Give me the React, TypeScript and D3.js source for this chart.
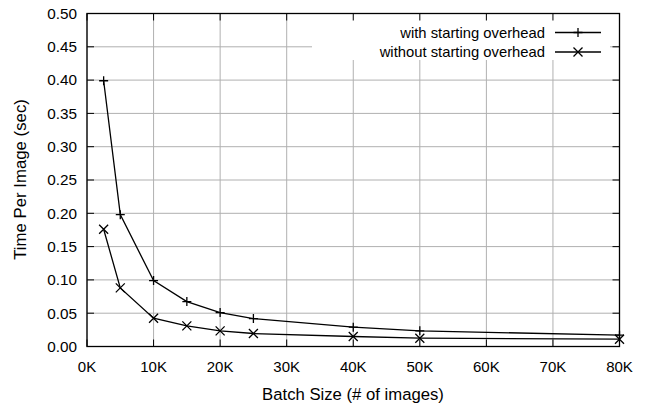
import React from "react";
import * as d3 from "d3";

const batchSizes = [2500, 5000, 10000, 15000, 20000, 25000, 40000, 50000, 80000];
const withOverhead = [0.399, 0.198, 0.099, 0.0675, 0.051, 0.042, 0.029, 0.0235, 0.017];
const withoutOverhead = [0.176, 0.088, 0.0425, 0.031, 0.0235, 0.0195, 0.015, 0.0125, 0.011];
const xTicks = [0, 10000, 20000, 30000, 40000, 50000, 60000, 70000, 80000];
const yTicks = [0, 0.05, 0.1, 0.15, 0.2, 0.25, 0.3, 0.35, 0.4, 0.45, 0.5];
const seriesNames = ["with starting overhead", "without starting overhead"];

const W = 646, H = 408;
const L = 87, R = 619.5, T = 13.5, B = 346.5;
const FONT = "'Liberation Sans', Arial, sans-serif";

export default function App() {
  const x = d3.scaleLinear().domain([0, 80000]).range([L, R]);
  const y = d3.scaleLinear().domain([0, 0.5]).range([B, T]);
  const line = d3.line<[number, number]>().x(d => x(d[0])).y(d => y(d[1]));
  const s1 = batchSizes.map((b, i) => [b, withOverhead[i]] as [number, number]);
  const s2 = batchSizes.map((b, i) => [b, withoutOverhead[i]] as [number, number]);
  const tick = 7;
  const m = 4.5;
  const plus = (cx: number, cy: number, k: string) => (
    <path key={k} d={`M${cx - m},${cy}H${cx + m}M${cx},${cy - m}V${cy + m}`} stroke="#000" strokeWidth={1.3} fill="none" />
  );
  const cross = (cx: number, cy: number, k: string) => (
    <path key={k} d={`M${cx - m},${cy - m}L${cx + m},${cy + m}M${cx - m},${cy + m}L${cx + m},${cy - m}`} stroke="#000" strokeWidth={1.3} fill="none" />
  );
  const legX0 = 312, legX1 = 610, legY0 = 14, legY1 = 60;
  const rows = [32.5, 52];
  return (
    <svg width={W} height={H} style={{ position: "absolute", left: 0, top: 0, background: "#fff" }} fontFamily={FONT}>
      <rect x={0} y={0} width={W} height={H} fill="#fff" />
      {xTicks.map(t => (
        <line key={"gx" + t} x1={x(t)} x2={x(t)} y1={T} y2={B} stroke="#b0b0b0" strokeWidth={1} />
      ))}
      {yTicks.map(t => (
        <line key={"gy" + t} x1={L} x2={R} y1={y(t)} y2={y(t)} stroke="#b0b0b0" strokeWidth={1} />
      ))}
      <rect x={legX0} y={legY0} width={legX1 - legX0} height={legY1 - legY0} fill="#fff" />
      {xTicks.map(t => (
        <g key={"tx" + t}>
          <line x1={x(t)} x2={x(t)} y1={B} y2={B - tick} stroke="#000" strokeWidth={1} />
          <line x1={x(t)} x2={x(t)} y1={T} y2={T + tick} stroke="#000" strokeWidth={1} />
          <text x={x(t)} y={372} textAnchor="middle" fontSize={15} fill="#000">{t / 1000 + "K"}</text>
        </g>
      ))}
      {yTicks.map(t => (
        <g key={"ty" + t}>
          <line x1={L} x2={L + tick} y1={y(t)} y2={y(t)} stroke="#000" strokeWidth={1} />
          <line x1={R} x2={R - tick} y1={y(t)} y2={y(t)} stroke="#000" strokeWidth={1} />
          <text x={77} y={y(t) + 5.3} textAnchor="end" fontSize={15.3} fill="#000">{t.toFixed(2)}</text>
        </g>
      ))}
      <path d={line(s1) || ""} fill="none" stroke="#000" strokeWidth={1.3} />
      <path d={line(s2) || ""} fill="none" stroke="#000" strokeWidth={1.3} />
      {s1.map((d, i) => plus(x(d[0]), y(d[1]), "p" + i))}
      {s2.map((d, i) => cross(x(d[0]), y(d[1]), "c" + i))}
      <rect x={L} y={T} width={R - L} height={B - T} fill="none" stroke="#000" strokeWidth={1.3} />
      {seriesNames.map((n, i) => (
        <g key={"leg" + i}>
          <text x={545} y={rows[i] + 5} textAnchor="end" fontSize={14.8} fill="#000">{n}</text>
          <line x1={555} x2={601} y1={rows[i]} y2={rows[i]} stroke="#000" strokeWidth={1.3} />
          {i === 0 ? plus(578, rows[i], "lp") : cross(578, rows[i], "lc")}
        </g>
      ))}
      <text x={353} y={400} textAnchor="middle" fontSize={16.7} fill="#000">Batch Size (# of images)</text>
      <text transform={`translate(25.5,179.5) rotate(-90)`} textAnchor="middle" fontSize={16.8} fill="#000">Time Per Image (sec)</text>
    </svg>
  );
}
